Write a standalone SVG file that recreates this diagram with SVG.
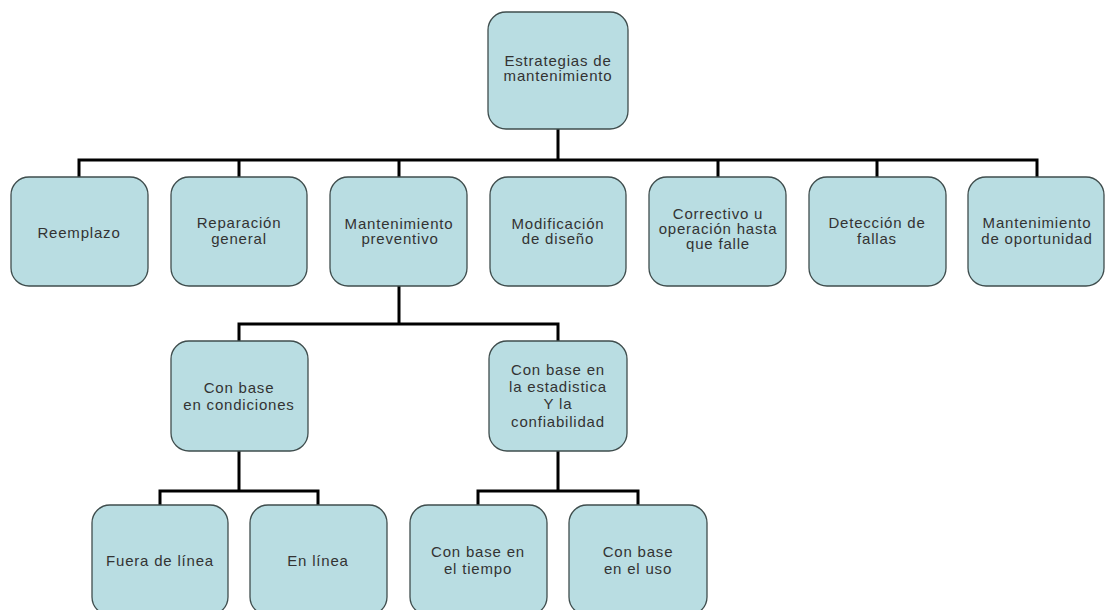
<svg xmlns="http://www.w3.org/2000/svg" width="1105" height="610" viewBox="0 0 1105 610">
<style>
.box{fill:#b9dde2;stroke:#3f4d4d;stroke-width:1.3}
.t{font-family:"Liberation Sans",Arial,sans-serif;font-size:15px;letter-spacing:0.8px;fill:#333333;text-anchor:middle}
.c{fill:none;stroke:#000;stroke-width:3;stroke-linejoin:miter;stroke-linecap:square}
</style>
<rect width="1105" height="610" fill="#ffffff"/>
<g id="connectors">
<path class="c" d="M558 129V160M79 177V160H1037V177M239 160V177M399 160V177M718 160V177M877 160V177"/>
<path class="c" d="M399 286V324M239 341V324H558V341"/>
<path class="c" d="M239 451V491M160 505V491H318V505"/>
<path class="c" d="M558 451V491M478 505V491H638V505"/>
</g>
<g id="root"><rect class="box" x="488" y="12" width="140" height="117" rx="18"/><text class="t" x="558" y="66">Estrategias de</text><text class="t" x="558" y="81">mantenimiento</text></g>
<g id="reemplazo"><rect class="box" x="11" y="177" width="137" height="109" rx="18"/><text class="t" x="79" y="238">Reemplazo</text></g>
<g id="reparacion"><rect class="box" x="171" y="177" width="136" height="109" rx="18"/><text class="t" x="239" y="228">Reparación</text><text class="t" x="239" y="244">general</text></g>
<g id="preventivo"><rect class="box" x="330" y="177" width="137" height="109" rx="18"/><text class="t" x="399" y="229">Mantenimiento</text><text class="t" x="400" y="244">preventivo</text></g>
<g id="modificacion"><rect class="box" x="490" y="177" width="136" height="109" rx="18"/><text class="t" x="558" y="229">Modificación</text><text class="t" x="558" y="244">de diseño</text></g>
<g id="correctivo"><rect class="box" x="649" y="177" width="137" height="109" rx="18"/><text class="t" x="718" y="219">Correctivo u</text><text class="t" x="718" y="234">operación hasta</text><text class="t" x="718" y="249">que falle</text></g>
<g id="deteccion"><rect class="box" x="809" y="177" width="137" height="109" rx="18"/><text class="t" x="877" y="228">Detección de</text><text class="t" x="877" y="244">fallas</text></g>
<g id="oportunidad"><rect class="box" x="968" y="177" width="136" height="109" rx="18"/><text class="t" x="1037" y="228">Mantenimiento</text><text class="t" x="1037" y="244">de oportunidad</text></g>
<g id="condiciones"><rect class="box" x="171" y="341" width="137" height="110" rx="18"/><text class="t" x="239" y="393">Con base</text><text class="t" x="239" y="410">en condiciones</text></g>
<g id="estadistica"><rect class="box" x="489" y="341" width="138" height="110" rx="18"/><text class="t" x="558" y="375">Con base en</text><text class="t" x="558" y="392">la estadistica</text><text class="t" x="558" y="409">Y la</text><text class="t" x="558" y="427">confiabilidad</text></g>
<g id="fuera"><rect class="box" x="92" y="505" width="136" height="110" rx="18"/><text class="t" x="160" y="566">Fuera de línea</text></g>
<g id="enlinea"><rect class="box" x="250" y="505" width="137" height="110" rx="18"/><text class="t" x="318" y="566">En línea</text></g>
<g id="tiempo"><rect class="box" x="410" y="505" width="137" height="110" rx="18"/><text class="t" x="478" y="557">Con base en</text><text class="t" x="478" y="574">el tiempo</text></g>
<g id="uso"><rect class="box" x="569" y="505" width="138" height="110" rx="18"/><text class="t" x="638" y="557">Con base</text><text class="t" x="638" y="574">en el uso</text></g>
</svg>
